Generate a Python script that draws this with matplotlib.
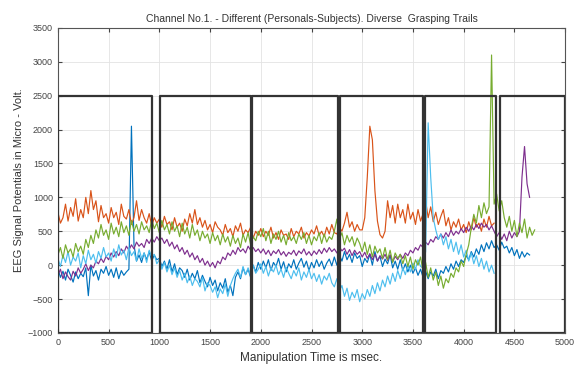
import numpy as np
import matplotlib
matplotlib.use("Agg")
import matplotlib.pyplot as plt

plt.rcParams["font.family"] = ["Liberation Sans", "DejaVu Sans"]

# sample times (msec), 25 ms step
t_orange = np.arange(0, 4301, 25)
t_dblue = np.arange(0, 4651, 25)
t_lblue = np.arange(0, 4301, 25)
t_green = np.arange(0, 4701, 25)
t_purple = np.arange(0, 4651, 25)

orange = [780, 620, 700, 900, 650, 850, 720, 980, 650, 820, 700, 1000, 760, 1100, 820, 950, 640, 880, 700, 760,
          620, 850, 700, 780, 600, 900, 720, 680, 820, 600, 700, 950, 660, 820, 700, 620, 760, 580, 700, 620,
          680, 560, 720, 600, 640, 520, 700, 560, 620, 500, 680, 580, 760, 620, 820, 600, 700, 560, 660, 520,
          600, 480, 640, 560, 520, 440, 600, 480, 540, 420, 580, 500, 620, 440, 520, 480, 560, 400, 500, 440,
          540, 420, 500, 440, 560, 400, 480, 380, 520, 440, 460, 380, 540, 420, 500, 460, 560, 400, 480, 430,
          520, 460, 580, 440, 500, 420, 560, 460, 600, 480, 460, 560, 500, 620, 780, 560, 640, 500, 600, 520,
          520, 700, 1300, 2050, 1850, 1100, 650, 450, 400, 500, 950, 700, 880, 620, 900, 700, 820, 620, 900, 680,
          780, 600, 820, 650, 760, 950, 700, 860, 640, 780, 600, 720, 820, 580, 700, 520, 640, 560, 680, 520,
          600, 480, 640, 520, 700, 560, 620, 500, 680, 560, 720, 580, 620]

dblue = [-50, -180, -90, -220, -60, -150, -250, -100, -200, -120, -170, -40, -450, 0, -160, -80, -220, -60, -120, -20,
         -150, -60, -180, -40, -200, -80, -150, -100, -60, 2050, 300, 60, 150, 40, 180, 80, 200, 60, 150, 80,
         100, -20, 60, -60, 80, -100, 20, -140, -40, -80, -180, -60, -220, -120, -200, -80, -260, -150, -240, -320,
         -180, -300, -220, -380, -260, -340, -200, -400, -300, -450, -180, -100, -200, -40, -140, -60, -180, 0, -100, 40,
         -60, 60, -40, 80, -80, 40, -20, 100, -60, 50, -100, 20, -40, 80, -60, 30, 100, -30, 60, -80,
         40, -40, 80, -20, 60, -60, 30, 90, -10, 120, 0, 150, 60, 200, 80, 160, 40, 180, 100, 140,
         -20, 100, 40, 160, 0, 200, 60, 130, -20, 90, 20, 150, -40, 60, -60, 80, -80, 20, -100, 0,
         -120, -40, -150, -60, -180, -90, -200, -100, -160, -60, -200, -80, -120, -20, -100, 20, -60, 60, -20, 80,
         40, 140, 80, 200, 120, 240, 160, 300, 200, 330, 240, 360, 260, 300, 220, 340, 250, 280, 180, 260,
         140, 230, 100, 200, 120, 180, 150]

lblue = [100, -20, 150, 40, 200, 0, 120, 60, 180, -40, 140, 20, 220, 80, 160, 30, 200, 100, 260, 120,
         180, 60, 240, 110, 300, 150, 220, 80, 260, 140, 200, 60, 240, 100, 180, 40, 220, 120, 160, 20,
         80, -60, 40, -100, 0, -140, -40, -180, -80, -220, -120, -260, -160, -300, -200, -240, -320, -180, -380, -260,
         -300, -400, -320, -480, -350, -420, -280, -460, -300, -200, -120, -60, -180, -20, -140, -40, -160, 0, -120, -60,
         20, -120, -20, -160, -40, -100, 0, -140, -60, -180, -30, -120, -200, -80, -160, -40, -220, -100, -180, -60,
         -200, -120, -240, -140, -280, -160, -220, -120, -260, -320, -200, -380, -300, -460, -340, -520, -400, -480, -360, -540,
         -420, -500, -360, -460, -300, -420, -260, -380, -220, -320, -160, -280, -120, -240, -80, -200, -40, -140, 0, -100,
         30, -60, 80, -20, -40, 200, 2100, 1300, 700, 520, 380, 460, 300, 420, 240, 380, 200, 340, 160, 300,
         120, 220, 60, 180, 20, 140, -20, 100, -60, 60, -100, 0, -120]

green = [150, 260, 100, 300, 180, 240, 120, 320, 200, 280, 160, 380, 260, 440, 320, 520, 400, 600, 440, 520,
         380, 620, 460, 560, 420, 640, 480, 580, 440, 660, 500, 600, 460, 640, 520, 580, 480, 680, 540, 620,
         480, 660, 520, 600, 460, 640, 500, 580, 420, 620, 460, 560, 400, 600, 440, 520, 360, 500, 400, 460,
         320, 480, 360, 440, 300, 460, 340, 420, 280, 440, 320, 400, 260, 460, 340, 480, 300, 420, 360, 500,
         420, 540, 360, 500, 320, 460, 380, 500, 340, 440, 300, 480, 360, 420, 320, 460, 380, 480, 320, 440,
         300, 420, 360, 480, 320, 460, 340, 420, 380, 500, 680, 380, 480, 300, 440, 340, 420, 280, 400, 320,
         200, 340, 160, 300, 120, 280, 180, 240, 100, 260, 80, 220, 40, 180, 100, 160, 20, 140, -20, 120,
         -60, 80, 0, 120, -100, 40, -180, -40, -220, -100, -300, -160, -340, -200, -260, -120, -180, -40, -100, 60,
         -20, 160, 300, 550, 750, 620, 880, 700, 920, 760, 860, 3100, 900, 1050, 800, 950, 700, 560, 720, 500,
         660, 420, 620, 480, 680, 400, 560, 440, 520]

purple = [-150, -60, -200, -100, -170, -220, -90, -160, -40, -120, -60, 20, -80, 0, -40, 60, 20, 100, 40, 130,
          80, 180, 120, 200, 140, 240, 180, 280, 220, 300, 240, 340, 280, 320, 260, 380, 320, 400, 340, 420,
          360, 400, 320, 380, 280, 340, 240, 300, 200, 260, 160, 220, 120, 180, 80, 140, 40, 100, 0, 60,
          -20, 40, -40, 60, 20, 120, 80, 180, 140, 220, 160, 260, 200, 240, 180, 280, 220, 260, 200, 240,
          180, 240, 160, 220, 140, 210, 170, 230, 150, 200, 130, 190, 160, 220, 140, 210, 170, 240, 150, 200,
          140, 210, 160, 230, 170, 250, 190, 260, 200, 240, 180, 270, 210, 250, 160, 230, 140, 220, 160, 200,
          120, 190, 100, 170, 80, 160, 60, 140, 90, 160, 70, 150, 50, 130, 80, 160, 100, 180, 140, 220,
          180, 260, 220, 300, 260, 340, 300, 380, 340, 420, 380, 460, 400, 480, 420, 520, 440, 500, 460, 540,
          480, 560, 500, 580, 520, 600, 540, 620, 560, 600, 520, 580, 500, 420, 480, 380, 460, 360, 500, 400,
          480, 420, 500, 1300, 1750, 1200, 1000]

# grasping trial windows (msec)
box_start = [0, 1010, 1910, 2780, 3615, 4360]
box_end = [930, 1900, 2760, 3595, 4320, 5000]
box_low, box_high = -1000, 2500

fig = plt.figure(figsize=(5.79, 3.72), dpi=100)
ax = fig.add_axes([0.100, 0.105, 0.876, 0.820])

lw = 0.85
ax.plot(t_dblue, dblue, color="#0072BD", lw=lw)
ax.plot(t_orange, orange, color="#D95319", lw=lw)
ax.plot(t_purple, purple, color="#7E2F8E", lw=lw)
ax.plot(t_lblue, lblue, color="#4DBEEE", lw=lw)
ax.plot(t_green, green, color="#77AC30", lw=lw)

for a, b in zip(box_start, box_end):
    ax.plot([a, a, b, b, a], [box_low, box_high, box_high, box_low, box_low],
            color="#333333", lw=1.6, zorder=5)

ax.set_xlim(0, 5000)
ax.set_ylim(-1000, 3500)
ax.set_xticks(np.arange(0, 5001, 500))
ax.set_yticks(np.arange(-1000, 3501, 500))
ax.grid(True, color="#e3e3e3", lw=0.6)
ax.set_axisbelow(True)
ax.tick_params(direction="in", top=True, right=True, labelsize=6.5, length=3, colors="#444444")
for s in ax.spines.values():
    s.set_color("#555555")
    s.set_linewidth(0.8)

ax.set_title("Channel No.1. - Different (Personals-Subjects). Diverse  Grasping Trails",
             fontsize=7.5, color="#333333", pad=4)
ax.set_xlabel("Manipulation Time is msec.", fontsize=8.5, color="#333333", labelpad=4)
ax.set_ylabel("EEG Signal Potentials in Micro - Volt.", fontsize=8, color="#333333", labelpad=3)

fig.savefig("out.png", dpi=100)
